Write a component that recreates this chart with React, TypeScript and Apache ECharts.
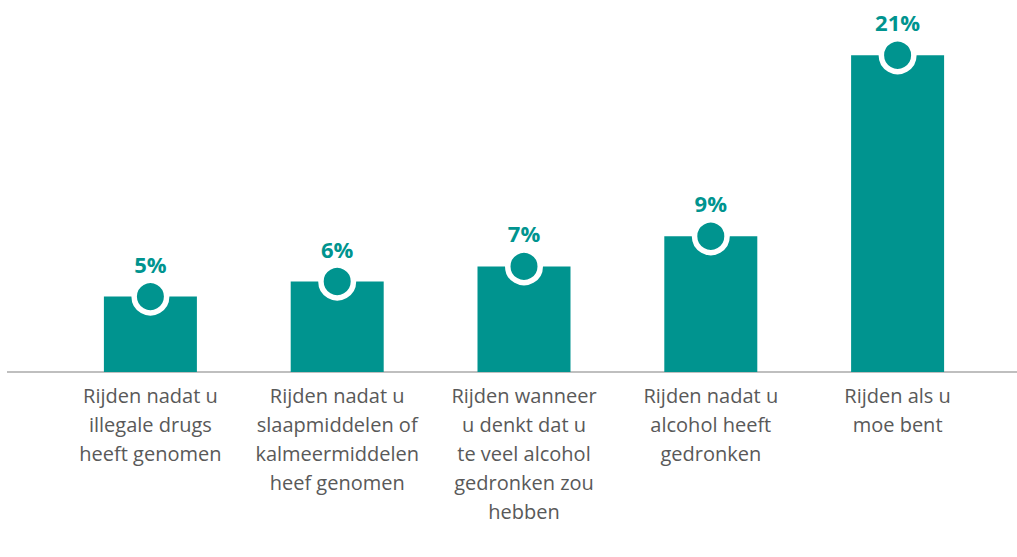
import React, { useEffect, useRef } from "react";
import * as echarts from "echarts";

const categories = [
  "Rijden nadat u\nillegale drugs\nheeft genomen",
  "Rijden nadat u\nslaapmiddelen of\nkalmeermiddelen\nheef genomen",
  "Rijden wanneer\nu denkt dat u\nte veel alcohol\ngedronken zou\nhebben",
  "Rijden nadat u\nalcohol heeft\ngedronken",
  "Rijden als u\nmoe bent",
];
const values = [5, 6, 7, 9, 21];

const TEAL = "#00948f";

export default function App() {
  const ref = useRef<HTMLDivElement>(null);
  useEffect(() => {
    if (!ref.current) return;
    const chart = echarts.init(ref.current, null, { renderer: "svg" });
    chart.setOption({
      animation: false,
      backgroundColor: "#ffffff",
      grid: { left: 57, right: 26, top: 10, bottom: 185 },
      xAxis: {
        type: "category",
        data: categories,
        axisLine: { show: false },
        axisTick: { show: false },
        axisLabel: {
          interval: 0,
          color: "#595959",
          fontFamily: "Open Sans",
          fontSize: 20,
          lineHeight: 29,
          margin: 9,
        },
      },
      yAxis: {
        type: "value",
        min: 0,
        max: 24,
        show: false,
        splitLine: { show: false },
      },
      graphic: [
        {
          type: "line",
          shape: { x1: 7, y1: 372, x2: 1017, y2: 372 },
          style: { stroke: "#bfbfbf", lineWidth: 2 },
          z: 1,
        },
      ],
      series: [
        {
          type: "bar",
          data: values,
          barWidth: 93,
          itemStyle: { color: TEAL },
          label: {
            show: true,
            position: "top",
            distance: 22,
            formatter: "{c}%",
            color: TEAL,
            fontFamily: "Open Sans",
            fontWeight: "bold",
            fontSize: 22,
          },
          z: 2,
        },
        {
          type: "scatter",
          data: values,
          symbol: "circle",
          symbolSize: 32.5,
          itemStyle: {
            color: TEAL,
            borderColor: "#ffffff",
            borderWidth: 5.5,
            opacity: 1,
          },
          emphasis: { disabled: true },
          z: 3,
        },
      ],
    });
    return () => chart.dispose();
  }, []);
  return (
    <div
      ref={ref}
      style={{ position: "fixed", left: 0, top: 0, width: 1017, height: 557 }}
    />
  );
}
